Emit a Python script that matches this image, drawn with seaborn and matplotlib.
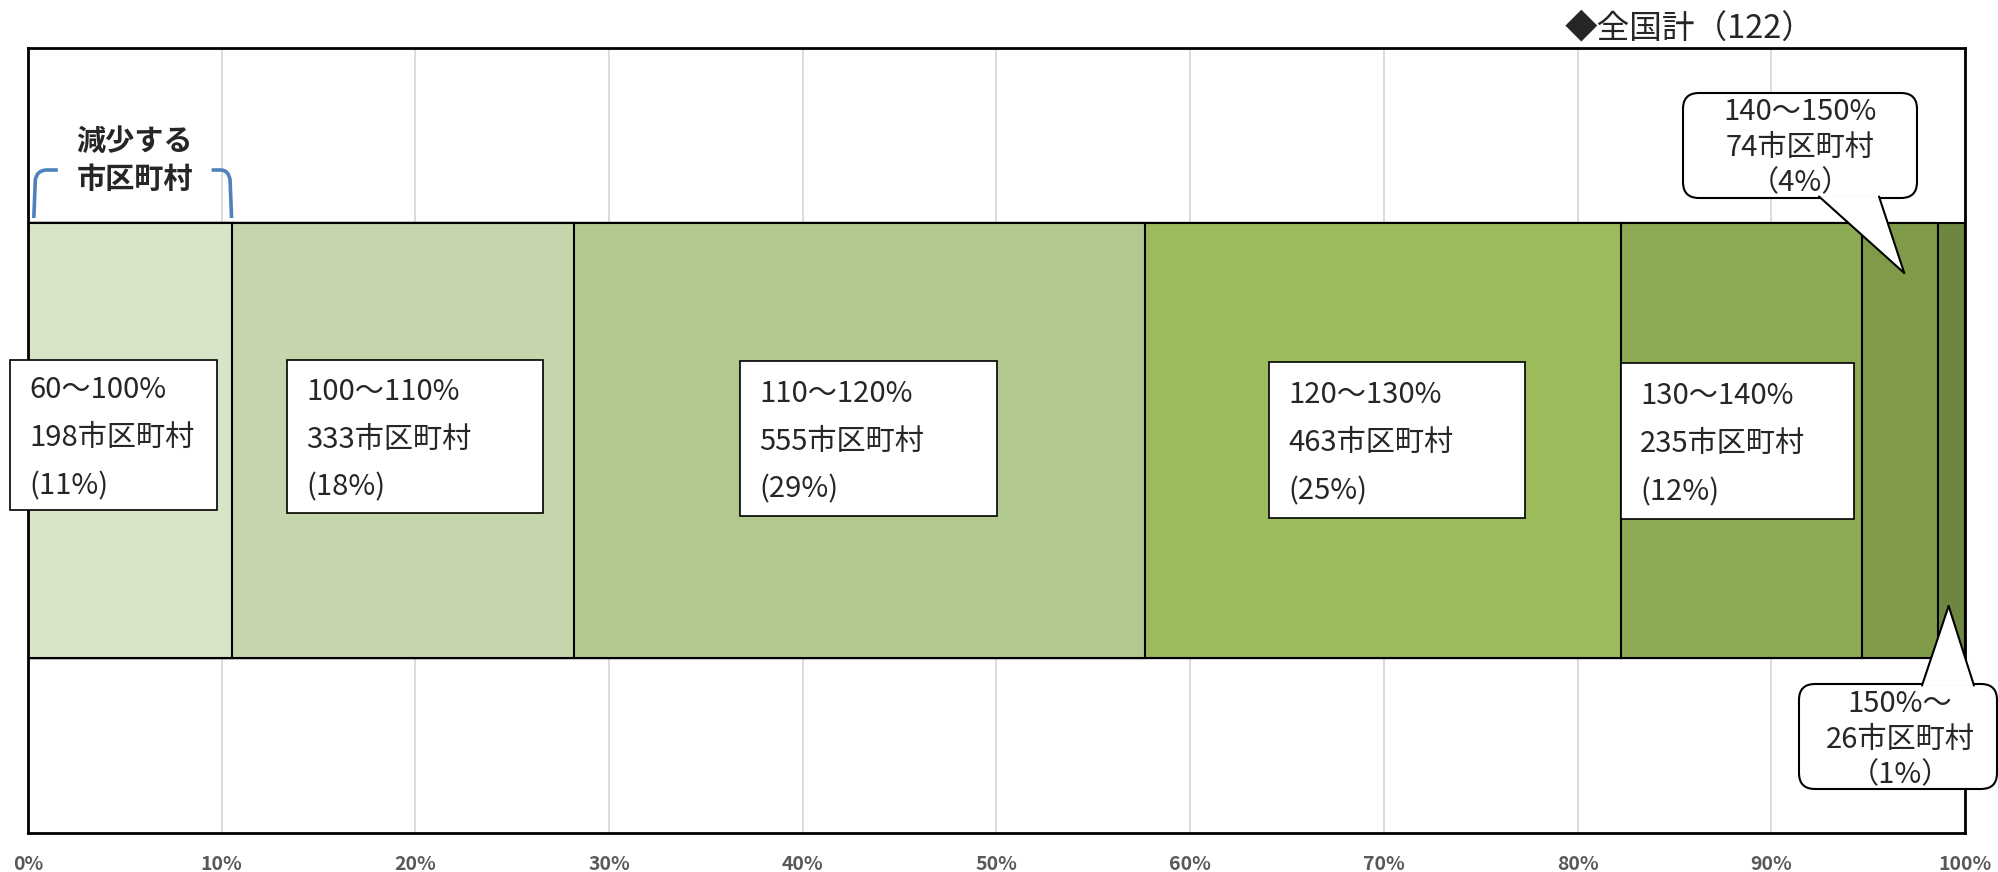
import matplotlib
matplotlib.use('Agg')
import matplotlib.pyplot as plt
import matplotlib.transforms as mtransforms
from matplotlib.patches import Rectangle, FancyBboxPatch, Polygon, PathPatch
from matplotlib.path import Path
from matplotlib.lines import Line2D
import numpy as np
import pandas as pd
import seaborn as sns

# data
ranges = ['60～100%', '100～110%', '110～120%', '120～130%',
          '130～140%', '140～150%', '150%～']
counts = [198, 333, 555, 463, 235, 74, 26]
pct_labels = ['11%', '18%', '29%', '25%', '12%', '4%', '1%']
colors = ['#D8E4C7', '#C5D6AD', '#B1C98E', '#9CBB5A',
          '#8CAA51', '#7F9B4A', '#6D8640']
tick_values = [0.0, 0.1, 0.2, 0.3, 0.4, 0.5, 0.6, 0.7, 0.8, 0.9, 1.0]
tick_labels = ['0%', '10%', '20%', '30%', '40%', '50%',
               '60%', '70%', '80%', '90%', '100%']
title = '◆全国計（122）'

share = np.array(counts) / np.sum(counts)
cum = np.cumsum(share)
df = pd.DataFrame({'range': ranges, 'cum': cum, 'group': '全国計'})

sns.set_style('white')
plt.rcParams['font.family'] = ['Noto Sans CJK JP', 'DejaVu Sans']

W, H = 1999, 872
fig = plt.figure(figsize=(W / 100, H / 100), dpi=100)
AX_L, AX_R, AX_T, AX_B = 28, 1965, 48, 833
ax = fig.add_axes([AX_L / W, 1 - AX_B / H, (AX_R - AX_L) / W, (AX_B - AX_T) / H])

# stacked bar: overlay cumulative totals, largest first
for i in reversed(range(len(df))):
    sns.barplot(data=df.iloc[[i]], x='cum', y='group', orient='h',
                color=colors[i], saturation=1, width=0.555, errorbar=None,
                edgecolor='black', linewidth=1.5, ax=ax)

ax.set_xlim(0, 1)
ax.set_ylim(-0.5, 0.5)
ax.set_axisbelow(True)
ax.xaxis.grid(True, color='#d9d9d9', linewidth=1.3)
ax.yaxis.grid(False)
ax.set_xticks(tick_values)
ax.set_xticklabels(tick_labels, fontsize=14, fontweight='bold', color='#595959')
ax.tick_params(axis='x', length=0, pad=16)
ax.set_yticks([])
ax.set_xlabel('')
ax.set_ylabel('')
for s in ax.spines.values():
    s.set_visible(True)
    s.set_color('black')
    s.set_linewidth(2)

# pixel transform (image coordinates, y down) for annotations
T = mtransforms.Affine2D().scale(1 / W, -1 / H).translate(0, 1) + fig.transFigure


def xpx(v):
    return AX_L + v * (AX_R - AX_L)


FS = 21

# label boxes for the first five segments (left, top, right, bottom in px)
boxes = [(10, 360, 217, 510), (287, 360, 543, 513), (740, 361, 997, 516),
         (1269, 362, 1525, 518), (1621, 363, 1854, 519)]
for i, (l, t, r, b) in enumerate(boxes):
    ax.add_patch(Rectangle((l, b), r - l, t - b, transform=T, facecolor='white',
                           edgecolor='black', linewidth=1.2, zorder=5, clip_on=False))
    lines = [ranges[i], f'{counts[i]}市区町村', f'({pct_labels[i]})']
    mid = (t + b) / 2
    for j, s in enumerate(lines):
        ax.text(l + 19, mid + 3 + (j - 1) * 48, s, transform=T, fontsize=FS,
                ha='left', va='center', zorder=6, clip_on=False)


# speech-bubble callouts for the two thin segments
def callout(box, base, tip, text_x, text_y, lines):
    l, t, r, b = box
    ax.add_patch(FancyBboxPatch((l, t), r - l, b - t, transform=T,
                                boxstyle='round,pad=0,rounding_size=16',
                                facecolor='white', edgecolor='black',
                                linewidth=1.5, zorder=7, clip_on=False))
    by = base[2]
    ax.add_patch(Polygon([(base[0], by), (tip[0], tip[1]), (base[1], by)],
                         closed=True, transform=T, facecolor='white',
                         edgecolor='none', zorder=8, clip_on=False))
    for bx in base[:2]:
        ax.add_line(Line2D([bx, tip[0]], [by, tip[1]], transform=T,
                           color='black', linewidth=1.5, zorder=9, clip_on=False))
    for j, s in enumerate(lines):
        ax.text(text_x, text_y + j * 35.5, s, transform=T, fontsize=FS,
                ha='center', va='center', zorder=10, clip_on=False)


c5 = xpx(cum[4] + share[5] / 2)
callout((1683, 93, 1917, 198), (1819, 1879, 196.5), (c5 + 4, 273), 1800, 112,
        [ranges[5], f'{counts[5]}市区町村', f'（{pct_labels[5]}）'])
c6 = xpx(cum[5] + share[6] / 2)
callout((1799, 684, 1997, 789), (1922, 1974, 685.5), (c6 - 3, 606), 1900, 704,
        [ranges[6], f'{counts[6]}市区町村', f'（{pct_labels[6]}）'])

# bracket over the decreasing municipalities
x0, x1 = xpx(0.003), xpx(cum[0])
top, bot = 170, 218
left = Path([(x0, bot), (x0 + 1.5, top + 10), (x0 + 3, top), (x0 + 13, top), (x0 + 24, top)],
            [Path.MOVETO, Path.LINETO, Path.CURVE3, Path.CURVE3, Path.LINETO])
right = Path([(x1 - 20, top), (x1 - 11, top), (x1 - 3, top), (x1 - 1.5, top + 10), (x1, bot)],
             [Path.MOVETO, Path.LINETO, Path.CURVE3, Path.CURVE3, Path.LINETO])
for p in (left, right):
    ax.add_patch(PathPatch(p, transform=T, facecolor='none', edgecolor='#4F81BD',
                           linewidth=2.6, zorder=4, clip_on=False))
ax.text((x0 + x1) / 2 + 2, 141, '減少する', transform=T, fontsize=21,
        fontweight='bold', ha='center', va='center', zorder=4)
ax.text((x0 + x1) / 2 + 2, 179, '市区町村', transform=T, fontsize=21,
        fontweight='bold', ha='center', va='center', zorder=4)

# title
fig.text(1565 / W, 1 - 28 / H, title, fontsize=23.5, ha='left', va='center')

plt.savefig('out.png', dpi=100, facecolor='white')
